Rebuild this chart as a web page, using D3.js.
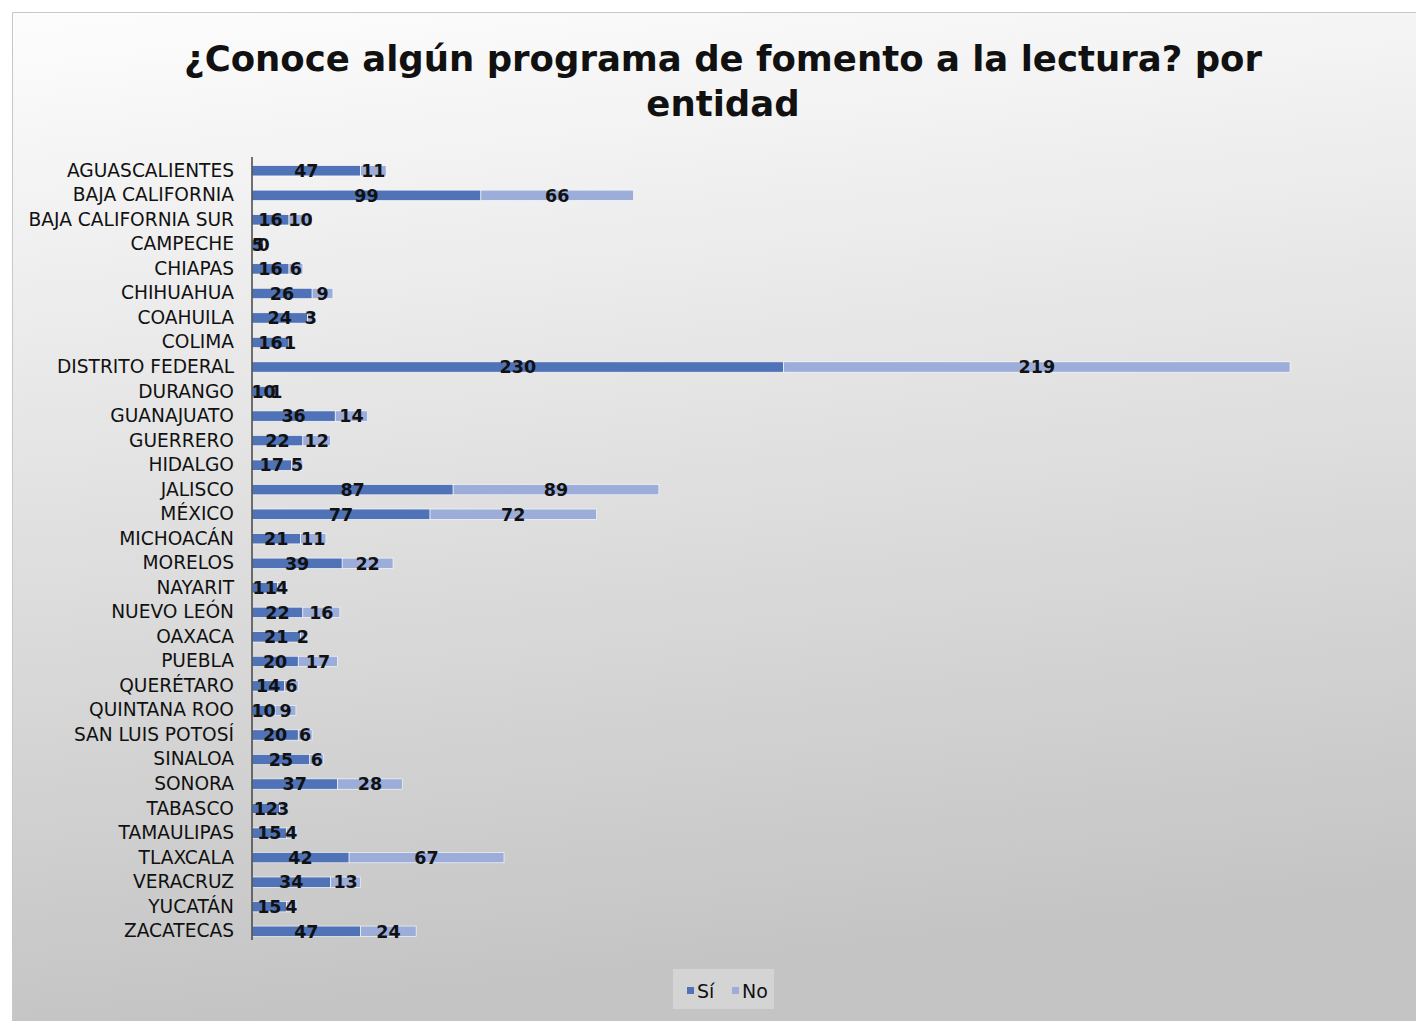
<!DOCTYPE html>
<html>
<head>
<meta charset="utf-8">
<script src="https://cdnjs.cloudflare.com/ajax/libs/d3/7.8.5/d3.min.js"></script>
<style>
  body { margin: 0; background: #fff; }
  svg text { font-family: "DejaVu Sans", sans-serif; }
</style>
</head>
<body>
<div id="chart"></div>
<script>
var categories = ["AGUASCALIENTES", "BAJA CALIFORNIA", "BAJA CALIFORNIA SUR", "CAMPECHE", "CHIAPAS",
    "CHIHUAHUA", "COAHUILA", "COLIMA", "DISTRITO FEDERAL", "DURANGO", "GUANAJUATO", "GUERRERO",
    "HIDALGO", "JALISCO", "MÉXICO", "MICHOACÁN", "MORELOS", "NAYARIT", "NUEVO LEÓN", "OAXACA",
    "PUEBLA", "QUERÉTARO", "QUINTANA ROO", "SAN LUIS POTOSÍ", "SINALOA", "SONORA", "TABASCO",
    "TAMAULIPAS", "TLAXCALA", "VERACRUZ", "YUCATÁN", "ZACATECAS"];
var si = [47, 99, 16, 5, 16, 26, 24, 16, 230, 10, 36, 22, 17, 87, 77, 21, 39, 11, 22, 21,
          20, 14, 10, 20, 25, 37, 12, 15, 42, 34, 15, 47];
var no = [11, 66, 10, 0, 6, 9, 3, 1, 219, 1, 14, 12, 5, 89, 72, 11, 22, 4, 16, 2,
          17, 6, 9, 6, 6, 28, 3, 4, 67, 13, 4, 24];
var seriesNames = ["Sí", "No"];
var seriesColors = ["#4f73b6", "#9badd8"];

var W = 1416, H = 1021;
var svg = d3.select("#chart").append("svg").attr("width", W).attr("height", H);

var defs = svg.append("defs");
var grad = defs.append("linearGradient").attr("id", "bg")
    .attr("x1", "0").attr("y1", "0").attr("x2", "0.15").attr("y2", "1");
grad.append("stop").attr("offset", "0%").attr("stop-color", "#fdfdfd");
grad.append("stop").attr("offset", "100%").attr("stop-color", "#c4c4c4");

// chart area frame
svg.append("rect").attr("x", 12).attr("y", 12).attr("width", W - 12).attr("height", H - 12)
    .attr("fill", "url(#bg)");
svg.append("path").attr("d", "M12.5," + H + "V12.5H" + W)
    .attr("fill", "none").attr("stroke", "#c8c8c8").attr("stroke-width", 1);

// title
var title = svg.append("text").attr("text-anchor", "middle")
    .attr("font-size", 35.5).attr("font-weight", "bold").attr("fill", "#111");
title.append("tspan").attr("x", 723).attr("y", 71).text("¿Conoce algún programa de fomento a la lectura? por");
title.append("tspan").attr("x", 723).attr("y", 116).text("entidad");

var rows = categories.map(function(c, i) {
    return { name: c, values: [si[i], no[i]] };
});
var stack = d3.stack().keys([0, 1]).value(function(d, k) { return d.values[k]; });
var layers = stack(rows);

var x = d3.scaleLinear().domain([0, 449]).range([252, 1290]);
var y = d3.scaleBand().domain(categories).range([158.5, 943.5]).paddingInner(0.58).paddingOuter(0.29);

var g = svg.append("g");
g.selectAll("g.layer").data(layers).enter().append("g")
    .attr("class", "layer")
    .attr("fill", function(d, i) { return seriesColors[i]; })
    .selectAll("rect").data(function(d) { return d; }).enter().append("rect")
    .attr("x", function(d) { return x(d[0]); })
    .attr("y", function(d) { return y(d.data.name); })
    .attr("width", function(d) { return Math.max(0, x(d[1]) - x(d[0])); })
    .attr("height", y.bandwidth())
    .attr("stroke", "#ffffff").attr("stroke-width", 0.6);

// data labels
g.selectAll("g.labels").data(layers).enter().append("g")
    .attr("class", "labels")
    .selectAll("text").data(function(d) { return d; }).enter().append("text")
    .attr("x", function(d) { return (x(d[0]) + x(d[1])) / 2; })
    .attr("y", function(d) { return y(d.data.name) + y.bandwidth() / 2; })
    .attr("dy", "0.36em")
    .attr("text-anchor", "middle")
    .attr("font-size", 17.5).attr("font-weight", "bold").attr("fill", "#111")
    .text(function(d) { return d[1] - d[0]; });

// category axis
var yAxis = d3.axisLeft(y).tickSize(0).tickPadding(18);
var ax = svg.append("g").attr("transform", "translate(252,0)").call(yAxis);
ax.select(".domain").attr("stroke", "#444").attr("stroke-width", 1.5)
    .attr("d", "M0,157V940");
ax.selectAll("text").attr("font-size", 18.6).attr("fill", "#111")
    .style("font-family", "DejaVu Sans, sans-serif");

// legend
var legend = svg.append("g");
legend.append("rect").attr("x", 673).attr("y", 969).attr("width", 101).attr("height", 40)
    .attr("fill", "#d4d4d4");
var li = legend.selectAll("g.item").data(seriesNames).enter().append("g")
    .attr("transform", function(d, i) { return "translate(" + (687 + i * 45) + ",991)"; });
li.append("rect").attr("x", 0).attr("y", -4).attr("width", 7).attr("height", 7)
    .attr("fill", function(d, i) { return seriesColors[i]; });
li.append("text").attr("x", 10).attr("y", 0).attr("dy", "0.36em")
    .attr("font-size", 19).attr("fill", "#111").text(function(d) { return d; });
</script>
</body>
</html>
